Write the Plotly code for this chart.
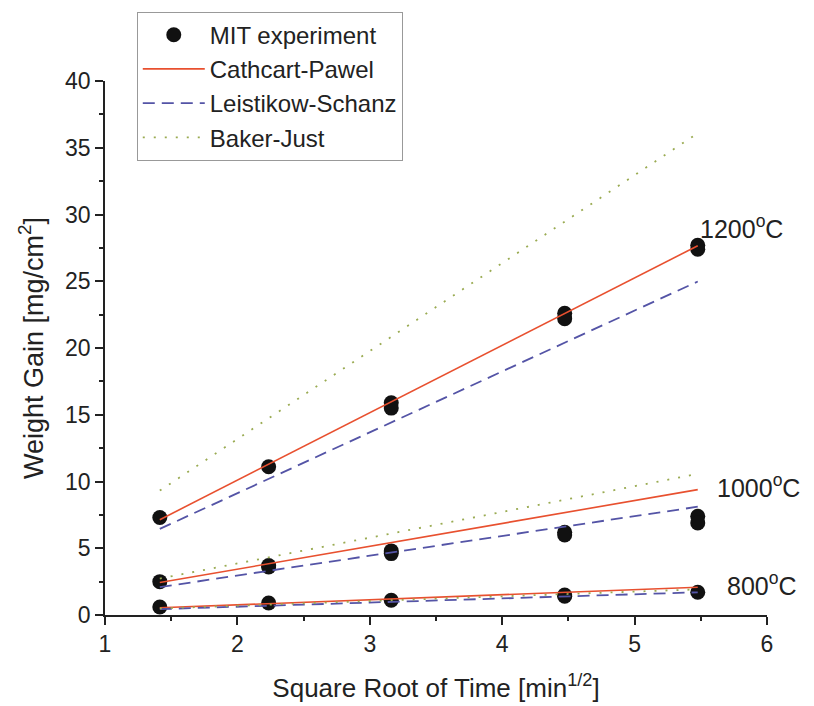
import plotly.graph_objects as go

# Square root of exposure time [min^1/2] for 2, 5, 10, 20 and 30 min
sqrt_t = [1.414, 2.236, 3.162, 4.472, 5.477]

# Measured weight gain [mg/cm^2] (repeat samples listed at the same x)
exp_x = [1.414, 2.236, 3.162, 3.162, 4.472, 4.472, 5.477, 5.477,
         1.414, 2.236, 2.236, 3.162, 3.162, 4.472, 4.472, 5.477, 5.477,
         1.414, 2.236, 3.162, 4.472, 4.472, 5.477]
exp_y = [7.3, 11.1, 15.9, 15.5, 22.6, 22.2, 27.7, 27.4,
         2.5, 3.7, 3.6, 4.8, 4.6, 6.2, 6.0, 7.4, 6.9,
         0.6, 0.9, 1.1, 1.5, 1.4, 1.7]

# Correlation predictions at each temperature
cp_1200 = [7.14, 11.29, 15.97, 22.58, 27.66]
ls_1200 = [6.45, 10.20, 14.42, 20.39, 24.98]
bj_1200 = [9.32, 14.73, 20.84, 29.47, 36.09]
cp_1000 = [2.43, 3.83, 5.42, 7.67, 9.39]
ls_1000 = [2.09, 3.31, 4.68, 6.62, 8.11]
bj_1000 = [2.73, 4.32, 6.10, 8.63, 10.57]
cp_800 = [0.54, 0.85, 1.20, 1.70, 2.08]
ls_800 = [0.44, 0.69, 0.98, 1.39, 1.70]
bj_800 = [0.49, 0.78, 1.11, 1.57, 1.92]

temp_labels = ["1200<sup>o</sup>C", "1000<sup>o</sup>C", "800<sup>o</sup>C"]
label_x = [5.48, 5.61, 5.68]
label_y = [29.1, 9.7, 2.3]

RED = "#e8502f"
BLUE = "#5454a6"
GREEN = "#9aab52"
FONT = "Liberation Sans, Arial, sans-serif"
INK = "#222222"

fig = go.Figure()

fig.add_trace(go.Scatter(x=exp_x, y=exp_y, mode="markers", name="MIT experiment",
                         marker=dict(color="#111111", size=15, symbol="circle")))

groups = [
    ("Cathcart-Pawel", [cp_1200, cp_1000, cp_800], dict(color=RED, width=1.6, dash="solid")),
    ("Leistikow-Schanz", [ls_1200, ls_1000, ls_800], dict(color=BLUE, width=1.8, dash="12px,7px")),
    ("Baker-Just", [bj_1200, bj_1000, bj_800], dict(color=GREEN, width=1.8, dash="2px,9px")),
]
for name, series, line in groups:
    for i, ys in enumerate(series):
        fig.add_trace(go.Scatter(x=sqrt_t, y=ys, mode="lines", name=name,
                                 line=line, legendgroup=name, showlegend=(i == 0)))

for txt, xv, yv in zip(temp_labels, label_x, label_y):
    fig.add_annotation(x=xv, y=yv, text=txt, showarrow=False, xanchor="left",
                       font=dict(size=25, color=INK, family=FONT))

fig.update_layout(
    width=814, height=706,
    margin=dict(l=105, r=47, t=79, b=91),
    paper_bgcolor="white", plot_bgcolor="white",
    font=dict(family=FONT, size=23, color=INK),
    legend=dict(x=0.048, y=1.13, xanchor="left", yanchor="top",
                bordercolor="#999999", borderwidth=1, bgcolor="white",
                font=dict(size=24, family=FONT, color=INK),
                itemwidth=62, tracegroupgap=0),
    xaxis=dict(range=[1, 6], dtick=1, showgrid=False, zeroline=False,
               showline=True, linecolor=INK, linewidth=1.5, automargin=False,
               ticks="outside", ticklen=8, tickwidth=1.5, tickcolor=INK,
               minor=dict(ticks="outside", dtick=0.5, ticklen=4, tickcolor=INK),
               title=dict(text="Square Root of Time [min<sup>1/2</sup>]", standoff=22,
                          font=dict(size=26)),
               tickfont=dict(size=23)),
    yaxis=dict(range=[0, 40], dtick=5, showgrid=False, zeroline=False,
               showline=True, linecolor=INK, linewidth=1.5, automargin=False,
               ticks="outside", ticklen=8, tickwidth=1.5, tickcolor=INK,
               minor=dict(ticks="outside", dtick=2.5, ticklen=4, tickcolor=INK),
               title=dict(text="Weight Gain [mg/cm<sup>2</sup>]", standoff=14,
                          font=dict(size=27)),
               tickfont=dict(size=23)),
)

fig.write_html("out.html")
